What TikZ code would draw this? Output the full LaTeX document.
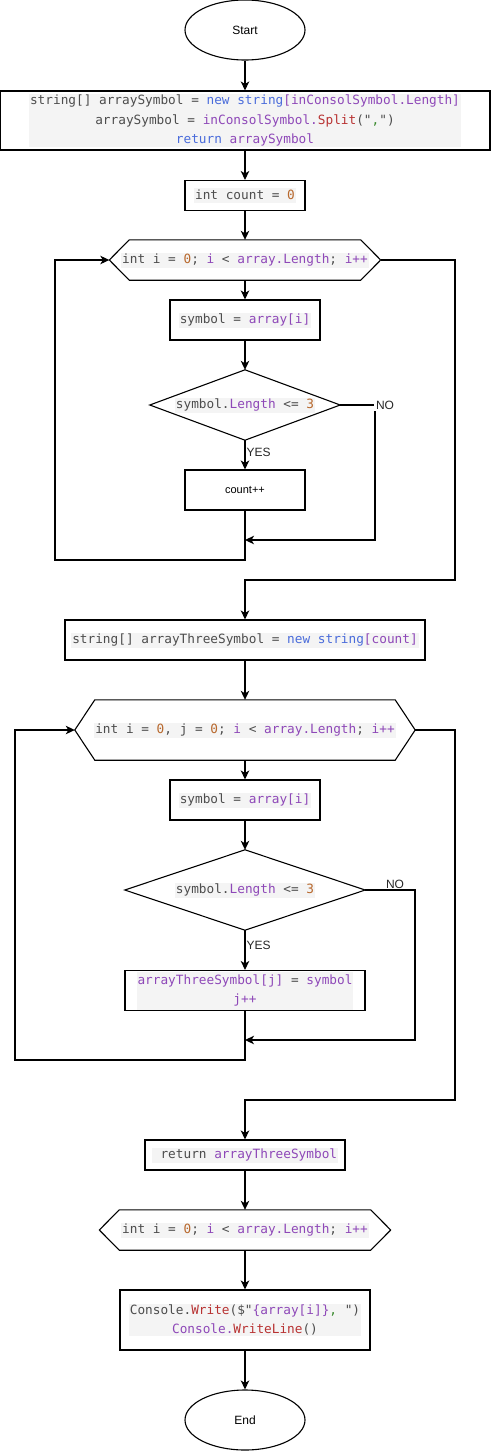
\documentclass[tikz,border=0pt]{standalone}
\usepackage{fontspec}
\setmainfont{Liberation Sans}
\setmonofont{DejaVu Sans Mono}
\usetikzlibrary{arrows.meta,shapes.geometric}

\definecolor{cgray}{HTML}{4D4D4D}
\definecolor{cidc}{HTML}{8E48B8}
\definecolor{ckwc}{HTML}{4A6CDB}
\definecolor{cnumc}{HTML}{B8692E}
\definecolor{cfnc}{HTML}{B83232}
\definecolor{cstrc}{HTML}{3A8A2E}
\definecolor{codebg}{HTML}{F4F4F4}

% syntax colouring helpers
\newcommand\cid[1]{\textcolor{cidc}{#1}}
\newcommand\ckw[1]{\textcolor{ckwc}{#1}}
\newcommand\cnum[1]{\textcolor{cnumc}{#1}}
\newcommand\cfn[1]{\textcolor{cfnc}{#1}}
\newcommand\cstr[1]{\textcolor{cstrc}{#1}}

\tikzset{
  x=1pt, y=-1pt,
  lw/.style={line width=1.1pt},
  proc/.style={draw, lw, rectangle, inner sep=0pt},
  term/.style={draw, lw, ellipse, inner sep=0pt, minimum width=120pt, minimum height=60pt,
               font=\fontsize{12}{14}\selectfont},
  frame/.style={rectangle, inner sep=0pt},
  code/.style={fill=codebg, text=cgray, inner xsep=1pt, inner ysep=1pt, align=center,
               font=\fontsize{12.75}{19.3}\selectfont\ttfamily},
  code1/.style={code, text height=10pt, text depth=3pt},
  lbl/.style={font=\fontsize{12}{14}\selectfont, inner sep=1pt, text=black!85},
  arr/.style={lw, -{Stealth[length=9pt,width=8.5pt,inset=2.5pt]}},
}

\newcommand\hexagon[1]{%
  \draw[lw] ([xshift=20pt]#1.north west) -- ([xshift=-20pt]#1.north east) -- (#1.east)
    -- ([xshift=-20pt]#1.south east) -- ([xshift=20pt]#1.south west) -- (#1.west) -- cycle;}
\newcommand\rhombus[1]{%
  \draw[lw] (#1.west) -- (#1.north) -- (#1.east) -- (#1.south) -- cycle;}

\begin{document}
\begin{tikzpicture}
\useasboundingbox (0,0) rectangle (491,1451);

% ---------- setup ----------
\node[term] (start) at (245,30) {Start};

\node[proc, minimum width=490pt, minimum height=59pt] (b1) at (245,120.5) {};
\node[code] at (b1.center) {string[] arraySymbol = \ckw{new string}\cid{[inConsolSymbol.Length]}\\
  arraySymbol = \cid{inConsolSymbol.}\cfn{Split}("\cstr{,}")\\
  \ckw{return} \cid{arraySymbol}};

\node[proc, minimum width=120pt, minimum height=30pt] (cnt) at (245,195.5) {};
\node[code1] at (cnt.center) {int count = \cnum{0}};

% ---------- first loop ----------
\node[frame, minimum width=271pt, minimum height=40pt] (h1) at (245,260) {};
\hexagon{h1}
\node[code1] at (h1.center) {int i = \cnum{0}; \cid{i} < \cid{array.Length}; \cid{i++}};

\node[proc, minimum width=150pt, minimum height=40pt] (s1) at (245,320) {};
\node[code1] at (s1.center) {symbol = \cid{array[i]}};

\node[frame, minimum width=190pt, minimum height=70pt] (d1) at (245,405) {};
\rhombus{d1}
\node[code1] at (d1.center) {symbol.\cid{Length} <= \cnum{3}};

\node[proc, minimum width=120pt, minimum height=40pt, font=\fontsize{11}{13}\selectfont] (inc) at (245,490) {count++};

\coordinate (no1) at (375,540);
\coordinate (j1) at (245,540);
\coordinate (lb1) at (55,560);
\coordinate (ex1) at (455,580);

% ---------- second block ----------
\node[proc, minimum width=360pt, minimum height=40pt] (b2) at (245,640) {};
\node[code1] at (b2.center) {string[] arrayThreeSymbol = \ckw{new string}\cid{[count]}};

\node[frame, minimum width=340pt, minimum height=60pt] (h2) at (245,730) {};
\hexagon{h2}
\node[code1] at (h2.center) {int i = \cnum{0}, j = \cnum{0}; \cid{i} < \cid{array.Length}; \cid{i++}};

\node[proc, minimum width=150pt, minimum height=40pt] (s2) at (245,800) {};
\node[code1] at (s2.center) {symbol = \cid{array[i]}};

\node[frame, minimum width=240pt, minimum height=80pt] (d2) at (245,890) {};
\rhombus{d2}
\node[code1] at (d2.center) {symbol.\cid{Length} <= \cnum{3}};

\node[proc, minimum width=240pt, minimum height=40pt] (asg) at (245,990.5) {};
\node[code, minimum width=216pt, minimum height=38pt, inner ysep=0pt] at (asg.center)
  {\cid{arrayThreeSymbol[j]} = \cid{symbol}\\ \cid{j++}};

\coordinate (no2) at (415,1040);
\coordinate (j2) at (245,1040);
\coordinate (lb2) at (15,1060);
\coordinate (ex2) at (455,1100);

% ---------- output ----------
\node[proc, minimum width=200pt, minimum height=30pt] (ret) at (245,1155) {};
\node[code1] at (ret.center) {\ return \cid{arrayThreeSymbol}};

\node[frame, minimum width=291pt, minimum height=40pt] (h3) at (245,1230) {};
\hexagon{h3}
\node[code1] at (h3.center) {int i = \cnum{0}; \cid{i} < \cid{array.Length}; \cid{i++}};

\node[proc, minimum width=250pt, minimum height=60pt] (con) at (245,1320) {};
\node[code] at (con.center) {Console.\cfn{Write}(\$"\cid{\{array[i]\}}\cstr{,} ")\\
  \cid{Console.}\cfn{WriteLine}()};

\node[term] (end) at (245,1420) {End};

% ---------- connectors ----------
\draw[arr] (start) -- (b1);
\draw[arr] (b1) -- (cnt);
\draw[arr] (cnt) -- (h1);
\draw[arr] (h1) -- (s1);
\draw[arr] (s1) -- (d1.north);
\draw[arr] (d1.south) -- node[lbl, anchor=west, pos=0.4] {YES} (inc);
\draw[arr] (d1.east) -| (no1) -- (j1);
\node[lbl, fill=white, inner sep=2pt] at (385,405) {NO};
\draw[arr] (inc.south) |- (lb1) |- (h1.west);
\draw[arr] (h1.east) -| (ex1) -| (b2.north);

\draw[arr] (b2) -- (h2);
\draw[arr] (h2) -- (s2);
\draw[arr] (s2) -- (d2.north);
\draw[arr] (d2.south) -- node[lbl, anchor=west, pos=0.38] {YES} (asg);
\draw[arr] (d2.east) -| (no2) -- (j2);
\node[lbl] at (395,884) {NO};
\draw[arr] (asg.south) |- (lb2) |- (h2.west);
\draw[arr] (h2.east) -| (ex2) -| (ret.north);

\draw[arr] (ret) -- (h3);
\draw[arr] (h3) -- (con);
\draw[arr] (con) -- (end);
\end{tikzpicture}
\end{document}
